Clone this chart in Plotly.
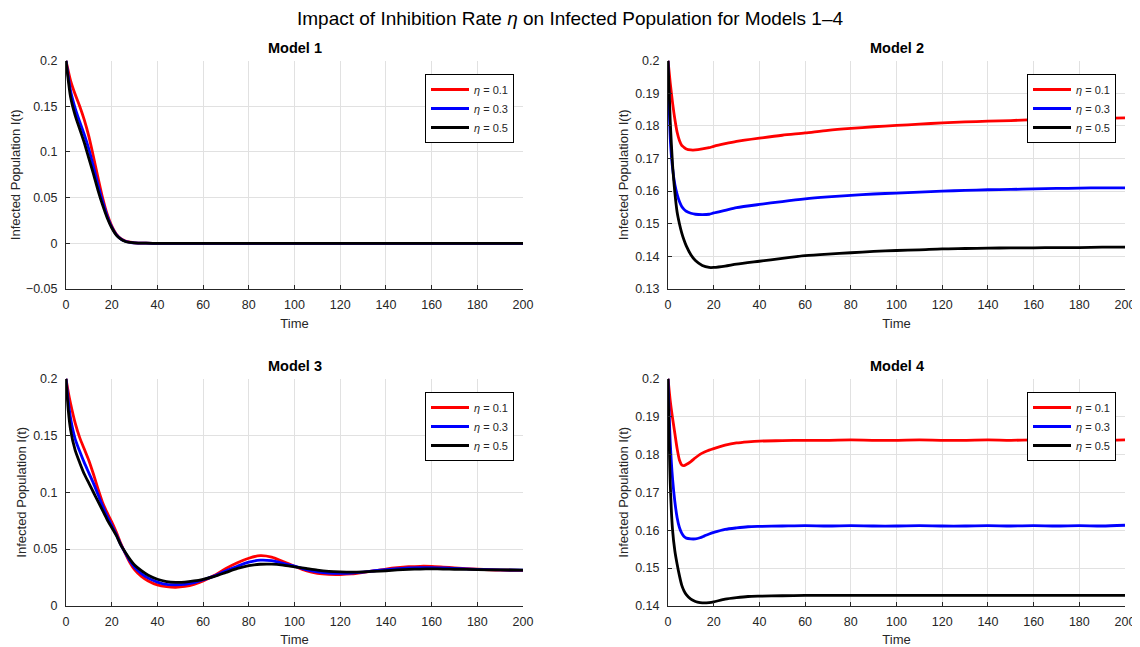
import plotly.graph_objects as go

# ---------------- data ----------------
eta_labels = ["<i>η</i> = 0.1", "<i>η</i> = 0.3", "<i>η</i> = 0.5"]
line_colors = ["#ff0000", "#0000ff", "#000000"]
model_titles = ["Model 1", "Model 2", "Model 3", "Model 4"]

# Model 1
t1 = [0, 2, 4, 6, 8, 10, 12, 14, 16, 18, 20, 22, 24, 26, 28, 30, 35, 40, 60, 80, 100, 120, 140, 160, 180, 200]
m1_eta01 = [0.2, 0.178, 0.163, 0.150, 0.135, 0.117, 0.095, 0.072, 0.050, 0.032, 0.019, 0.010, 0.005, 0.0025, 0.0012, 0.0005, 0.0001, 0, 0, 0, 0, 0, 0, 0, 0, 0]
m1_eta03 = [0.2, 0.167, 0.148, 0.133, 0.119, 0.103, 0.084, 0.064, 0.046, 0.030, 0.018, 0.0095, 0.0047, 0.0022, 0.0011, 0.0004, 0.0001, 0, 0, 0, 0, 0, 0, 0, 0, 0]
m1_eta05 = [0.2, 0.160, 0.140, 0.125, 0.110, 0.093, 0.076, 0.058, 0.042, 0.028, 0.017, 0.009, 0.0045, 0.002, 0.001, 0.0004, 0.0001, 0, 0, 0, 0, 0, 0, 0, 0, 0]

# Model 2
t2 = [0, 1, 2, 3, 4, 5, 6, 7, 8, 10, 12, 15, 18, 20, 25, 30, 40, 50, 60, 70, 80, 90, 100, 110, 120, 130, 140, 150, 160, 170, 180, 190, 200]
m2_eta01 = [0.2, 0.193, 0.187, 0.182, 0.178, 0.1755, 0.174, 0.1734, 0.1729, 0.1726, 0.1726, 0.1729, 0.1733, 0.1737, 0.1745, 0.1752, 0.1762, 0.1771, 0.1778, 0.1786, 0.1792, 0.1797, 0.1801, 0.1805, 0.1809, 0.1812, 0.1814, 0.1816, 0.1819, 0.1821, 0.1822, 0.1823, 0.1824]
m2_eta03 = [0.2, 0.176, 0.167, 0.162, 0.159, 0.1568, 0.1553, 0.1544, 0.1538, 0.1532, 0.1529, 0.1528, 0.1529, 0.1533, 0.1541, 0.1549, 0.1559, 0.1568, 0.1576, 0.1582, 0.1587, 0.1591, 0.1594, 0.1597, 0.1600, 0.1602, 0.1604, 0.1605, 0.1607, 0.1608, 0.1609, 0.1610, 0.1610]
m2_eta05 = [0.2, 0.181, 0.168, 0.1595, 0.1535, 0.1500, 0.1472, 0.1450, 0.1432, 0.1405, 0.1387, 0.1372, 0.1366, 0.1366, 0.137, 0.1376, 0.1385, 0.1394, 0.1402, 0.1407, 0.1411, 0.1415, 0.1418, 0.1420, 0.1423, 0.1424, 0.1425, 0.1426, 0.1426, 0.1427, 0.1427, 0.1428, 0.1428]

# Model 3
t3 = [0, 1, 2, 4, 6, 8, 10, 12, 14, 16, 18, 20, 22, 24, 26, 28, 30, 33, 36, 40, 44, 48, 52, 56, 60, 65, 70, 75, 80, 85, 90, 95, 100, 105, 110, 115, 120, 125, 130, 135, 140, 145, 150, 155, 160, 165, 170, 180, 190, 200]
m3_eta01 = [0.2, 0.188, 0.178, 0.161, 0.148, 0.138, 0.128, 0.116, 0.103, 0.091, 0.082, 0.074, 0.065, 0.055, 0.046, 0.038, 0.032, 0.026, 0.022, 0.0185, 0.017, 0.0165, 0.0172, 0.019, 0.022, 0.027, 0.033, 0.038, 0.042, 0.0443, 0.043, 0.039, 0.035, 0.031, 0.0287, 0.0278, 0.0277, 0.0282, 0.0295, 0.031, 0.0325, 0.0337, 0.0345, 0.0349, 0.0348, 0.0342, 0.0335, 0.0323, 0.0315, 0.0314]
m3_eta03 = [0.2, 0.18, 0.165, 0.147, 0.136, 0.126, 0.117, 0.108, 0.098, 0.088, 0.079, 0.071, 0.063, 0.054, 0.0465, 0.0395, 0.034, 0.0285, 0.0245, 0.021, 0.019, 0.0187, 0.019, 0.0205, 0.023, 0.0265, 0.031, 0.035, 0.0385, 0.0403, 0.0398, 0.0375, 0.035, 0.032, 0.030, 0.029, 0.0288, 0.029, 0.0298, 0.031, 0.032, 0.0328, 0.0335, 0.0337, 0.0337, 0.0334, 0.033, 0.0322, 0.0317, 0.0315]
m3_eta05 = [0.2, 0.172, 0.155, 0.137, 0.126, 0.116, 0.108, 0.100, 0.092, 0.084, 0.076, 0.069, 0.062, 0.0535, 0.047, 0.041, 0.036, 0.031, 0.027, 0.0235, 0.0215, 0.0208, 0.021, 0.022, 0.0235, 0.026, 0.0295, 0.033, 0.0355, 0.0367, 0.0368, 0.036, 0.0345, 0.033, 0.0315, 0.0305, 0.030, 0.0298, 0.030, 0.0305, 0.031, 0.0317, 0.0322, 0.0325, 0.0326, 0.0325, 0.0323, 0.032, 0.0317, 0.0316]

# Model 4
t4 = [0, 1, 2, 3, 4, 5, 6, 7, 8, 10, 12, 14, 16, 18, 20, 25, 30, 35, 40, 50, 60, 70, 80, 90, 100, 110, 120, 130, 140, 150, 160, 170, 180, 190, 200]
m4_eta01 = [0.2, 0.194, 0.1895, 0.1855, 0.1815, 0.1785, 0.1772, 0.177, 0.1773, 0.1781, 0.1791, 0.18, 0.1806, 0.1811, 0.1815, 0.1824, 0.183, 0.1833, 0.1835, 0.1836, 0.1837, 0.1837, 0.1838, 0.1837, 0.1837, 0.1838, 0.1837, 0.1837, 0.1838, 0.1837, 0.1838, 0.1837, 0.1838, 0.1837, 0.1838]
m4_eta03 = [0.2, 0.183, 0.1735, 0.1675, 0.1633, 0.1607, 0.1592, 0.1583, 0.1579, 0.1577, 0.1577, 0.158, 0.1585, 0.159, 0.1594, 0.1602, 0.1606, 0.1609, 0.161, 0.1611, 0.1612, 0.1611, 0.1612, 0.1611, 0.1611, 0.1612, 0.1611, 0.1611, 0.1612, 0.1611, 0.1612, 0.1611, 0.1612, 0.1611, 0.1613]
m4_eta05 = [0.2, 0.172, 0.160, 0.1545, 0.151, 0.148, 0.1455, 0.144, 0.143, 0.1418, 0.1412, 0.1409, 0.1408, 0.1409, 0.1411, 0.1418, 0.1422, 0.1425, 0.1426, 0.1427, 0.1428, 0.1428, 0.1428, 0.1428, 0.1428, 0.1428, 0.1428, 0.1428, 0.1428, 0.1428, 0.1428, 0.1428, 0.1428, 0.1428, 0.1428]

models = [
    (t1, [m1_eta01, m1_eta03, m1_eta05], [-0.05, 0.2]),
    (t2, [m2_eta01, m2_eta03, m2_eta05], [0.13, 0.2]),
    (t3, [m3_eta01, m3_eta03, m3_eta05], [0, 0.2]),
    (t4, [m4_eta01, m4_eta03, m4_eta05], [0.14, 0.2]),
]
y_dticks = [0.05, 0.01, 0.05, 0.01]

# ---------------- layout geometry ----------------
# page body has an 8px margin, so the figure is 8px smaller than the window
OFF = 8
W, H = 1140 - OFF, 647 - OFF
px_x = [(66, 523), (668, 1125), (66, 523), (668, 1125)]
px_y = [(60.5, 289), (60.5, 289), (378.5, 606), (378.5, 606)]

FONT = "Arial, Liberation Sans, Helvetica, sans-serif"
TXT = "#262626"

fig = go.Figure()
layout = dict(
    width=W, height=H,
    margin=dict(l=0, r=0, t=0, b=0),
    paper_bgcolor="white", plot_bgcolor="white",
    font=dict(family=FONT, color=TXT, size=12),
    annotations=[],
)

for i, (t, series, yr) in enumerate(models):
    k = "" if i == 0 else str(i + 1)
    leg = "legend" if i == 0 else f"legend{i + 1}"
    for j in range(3):
        fig.add_trace(go.Scatter(
            x=t, y=series[j], mode="lines", name=eta_labels[j],
            line=dict(color=line_colors[j], width=2.8, shape="spline", smoothing=0.7),
            xaxis=f"x{k}", yaxis=f"y{k}", legend=leg,
        ))
    x0, x1 = px_x[i][0] - OFF, px_x[i][1] - OFF
    y0, y1 = px_y[i][0] - OFF, px_y[i][1] - OFF
    layout[f"xaxis{k}"] = dict(
        domain=[x0 / W, x1 / W], anchor=f"y{k}", range=[0, 200], dtick=20, tick0=0,
        showgrid=True, gridcolor="#e1e1e1", gridwidth=1, zeroline=False,
        showline=True, linecolor=TXT, linewidth=1, mirror=False,
        ticks="inside", ticklen=4, tickcolor=TXT, ticklabelstandoff=4,
        tickfont=dict(size=12.5, color=TXT), automargin=False,
        title=dict(text="Time", font=dict(size=13, color=TXT), standoff=7),
    )
    layout[f"yaxis{k}"] = dict(
        domain=[1 - y1 / H, 1 - y0 / H], anchor=f"x{k}", range=yr, dtick=y_dticks[i], tick0=0,
        showgrid=True, gridcolor="#e1e1e1", gridwidth=1, zeroline=False,
        showline=True, linecolor=TXT, linewidth=1, mirror=False,
        ticks="inside", ticklen=4, tickcolor=TXT, ticklabelstandoff=5,
        tickfont=dict(size=12.5, color=TXT), automargin=False,
        title=dict(text="Infected Population I(t)", font=dict(size=13, color=TXT), standoff=3),
    )
    layout[leg] = dict(
        x=(x1 - 9) / W, y=1 - (y0 + 13.5) / H, xanchor="right", yanchor="top",
        xref="paper", yref="paper",
        bgcolor="white", bordercolor="#000000", borderwidth=1,
        font=dict(size=11, color=TXT), tracegroupgap=0, itemwidth=38,
    )
    layout["annotations"].append(dict(
        text=f"<b>{model_titles[i]}</b>", x=(x0 + x1) / 2 / W, y=1 - (y0 - 12.5) / H,
        xref="paper", yref="paper", xanchor="center", yanchor="middle",
        showarrow=False, font=dict(size=14.5, color="#000000"),
    ))

layout["annotations"].append(dict(
    text="Impact of Inhibition Rate <i>η</i> on Infected Population for Models 1–4",
    x=(570 - OFF) / W, y=1 - (18 - OFF) / H, xref="paper", yref="paper",
    xanchor="center", yanchor="middle",
    showarrow=False, font=dict(size=19, color="#000000"),
))

fig.update_layout(**layout)
fig.write_html("out.html")
